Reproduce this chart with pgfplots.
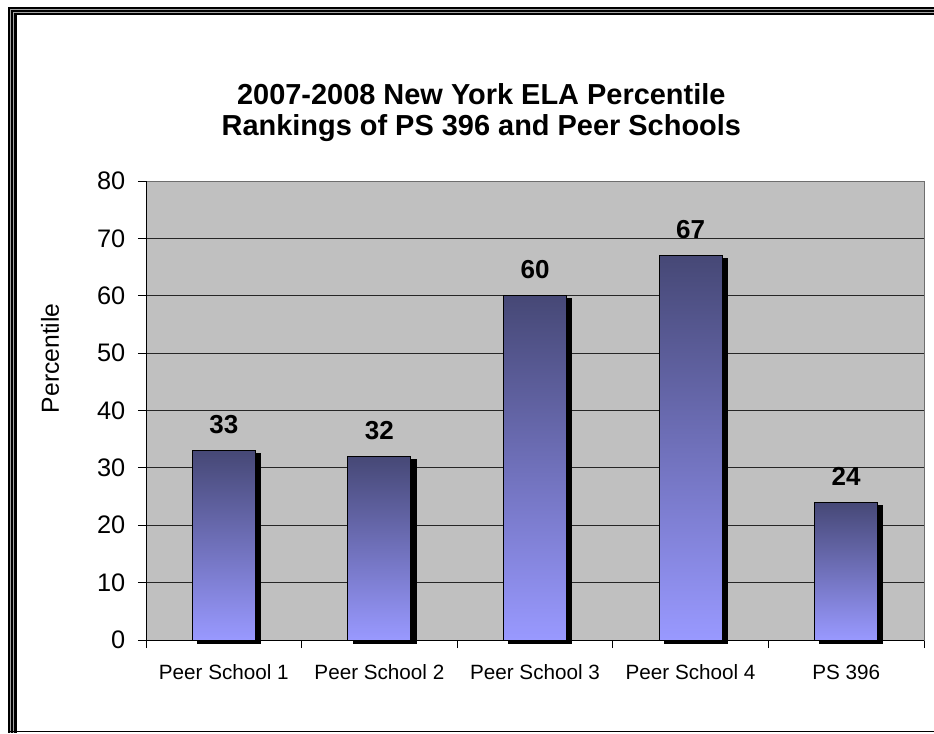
\documentclass[border=0pt]{standalone}
\usepackage{fontspec}
\setmainfont{Liberation Sans}
\usepackage{pgfplots}
\pgfplotsset{compat=1.18}
\definecolor{plotbg}{RGB}{192,192,192}
\definecolor{bartop}{RGB}{70,72,118}
\definecolor{barbot}{RGB}{153,153,255}
\definecolor{boxgray}{RGB}{110,110,110}

\pgfplotsset{
    shadowbar/.style={ybar, bar shift=0pt, fill=black, draw=black, xshift=3.75pt, yshift=-2.25pt},
    mainbar/.style={ybar, bar shift=0pt, draw=black, line width=0.75pt,
        top color=bartop, bottom color=barbot,
        nodes near coords,
        nodes near coords style={font=\bfseries\fontsize{19.5}{22}\selectfont,
            inner sep=0pt, anchor=south, yshift=12.3pt}},
}

\begin{document}
\begin{tikzpicture}[x=1pt,y=1pt]
\useasboundingbox (0,0) rectangle (700.5,549.75);
% outer frame
\fill[black] (6,0) rectangle (12.5,544.5);
\fill[black] (6,538.5) rectangle (700.5,544.5);
\draw[gray!70, line width=0.6pt] (8.1,0) -- (8.1,542.4) -- (700.5,542.4);
\draw[gray!70, line width=0.6pt] (10.3,0) -- (10.3,540.3) -- (700.5,540.3);
\draw[black, line width=0.9pt] (6,1.1) -- (700.5,1.1);

\begin{axis}[
    at={(109.5pt,69.75pt)}, anchor=south west,
    scale only axis, width=583.5pt, height=344.25pt,
    xmin=-0.5, xmax=4.5, ymin=0, ymax=80,
    ytick={0,10,...,80},
    xtick={0,...,4},
    xticklabels={Peer School 1, Peer School 2, Peer School 3, Peer School 4, PS 396},
    minor xtick={-0.5,0.5,...,4.5},
    major x tick style={draw=none},
    tick pos=left,
    tick align=outside,
    major tick length=6pt, minor tick length=6pt,
    tick style={black, line width=0.75pt},
    axis background/.style={fill=plotbg},
    ymajorgrids, grid style={black!85, line width=0.75pt},
    axis line style={draw=boxgray, line width=0.75pt},
    clip=false,
    /pgf/number format/assume math mode=true,
    yticklabel style={font=\fontsize{19}{21}\selectfont, xshift=-6pt},
    xticklabel style={font=\fontsize{15.5}{17}\selectfont, yshift=-9pt},
    every axis y label/.style={at={(axis description cs:-0.1234,0.614)}, rotate=90, anchor=center,
        font=\fontsize{18.5}{20}\selectfont},
    ylabel={Percentile},
    title={2007-2008 New York ELA Percentile\\Rankings of PS 396 and Peer Schools},
    title style={at={(axis description cs:0.431,1.132)}, anchor=center, align=center,
        font=\bfseries\fontsize{21.7}{23}\selectfont},
    bar width=47.25pt,
]
% shadows
\addplot[shadowbar] coordinates {(0,33)};
\addplot[shadowbar] coordinates {(1,32)};
\addplot[shadowbar] coordinates {(2,60)};
\addplot[shadowbar] coordinates {(3,67)};
\addplot[shadowbar] coordinates {(4,24)};
% bars
\addplot[mainbar] coordinates {(0,33)};
\addplot[mainbar] coordinates {(1,32)};
\addplot[mainbar] coordinates {(2,60)};
\addplot[mainbar] coordinates {(3,67)};
\addplot[mainbar] coordinates {(4,24)};
\draw[black, line width=0.75pt] (rel axis cs:0,1) -- (rel axis cs:0,0) -- (rel axis cs:1,0);
\end{axis}
\end{tikzpicture}
\end{document}
